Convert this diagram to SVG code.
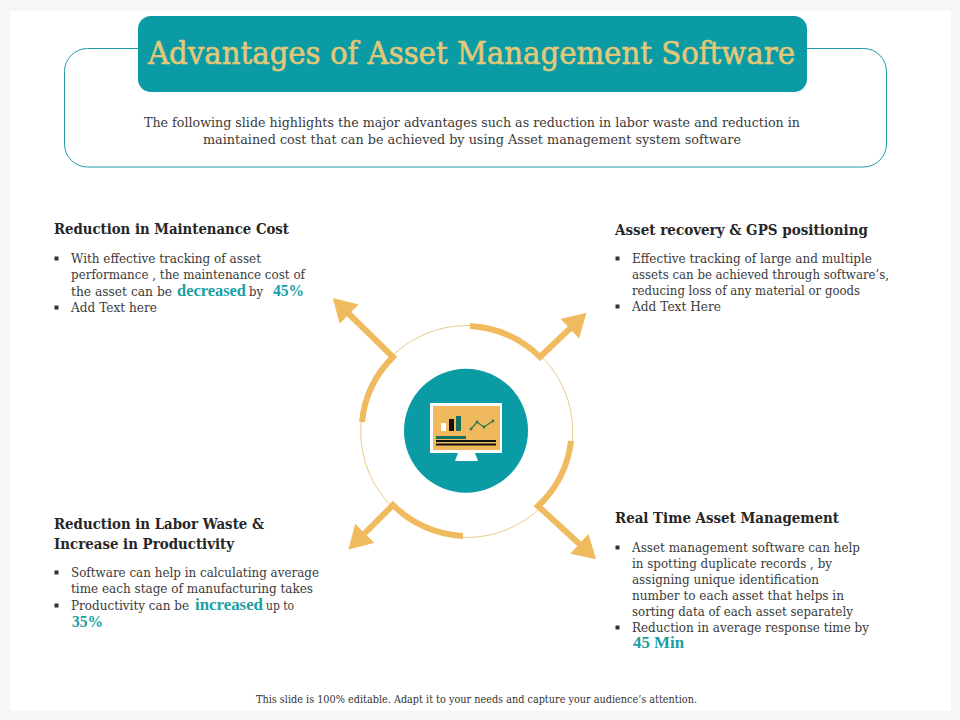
<svg xmlns="http://www.w3.org/2000/svg" width="960" height="720" viewBox="0 0 960 720">
<style>
text{font-family:"DejaVu Serif","Liberation Serif",serif;fill:#3a3a3a;font-size:12px}
.h{font-weight:bold;font-size:14px;fill:#262626}
.t{font-family:"Liberation Serif",serif;font-weight:bold;font-size:16px;fill:#1a9fa6}
.b{fill:#333}
.a{fill:none;stroke:#f0bb5e;stroke-width:6;stroke-linejoin:miter;marker-end:url(#head)}
</style>
<defs>
<marker id="head" markerUnits="userSpaceOnUse" markerWidth="24" markerHeight="28" refX="1" refY="14" orient="auto"><path d="M0 0.5L23 14L0 27.5Z" fill="#f0bb5e"/></marker>
</defs>
<rect width="960" height="720" fill="#f7f6f6"/>
<rect x="10" y="11" width="941" height="700" fill="#fff"/>
<g id="header">
<rect x="64.5" y="48.5" width="822" height="118.5" rx="23" fill="#fff" stroke="#1f9aa3" stroke-width="1"/>
<rect x="138" y="16" width="669" height="76" rx="13" fill="#0a9ba5"/>
<text x="148" y="64" textLength="647" lengthAdjust="spacingAndGlyphs" style="font-size:31px;fill:#e2c878;stroke:#e2c878;stroke-width:.6">Advantages of Asset Management Software</text>
<text x="144" y="127" textLength="656" lengthAdjust="spacingAndGlyphs">The following slide highlights the major advantages such as reduction in labor waste and reduction in</text>
<text x="203" y="144" textLength="538" lengthAdjust="spacingAndGlyphs">maintained cost that can be achieved by using  Asset management system software</text>
</g>
<g id="connectors">
<circle cx="466.7" cy="431.5" r="106" fill="none" stroke="#e9c98d" stroke-width="1"/>
<path class="a" d="M470 326A106 106 0 0 1 540 357L570.5 328"/>
<path class="a" d="M362 422A106 106 0 0 1 393 357L348.5 313.5"/>
<path class="a" d="M571 441A106 106 0 0 1 538 506L580 544.5"/>
<path class="a" d="M463 536A106 106 0 0 1 393 505L364 534"/>
</g>
<g id="monitor">
<circle cx="466" cy="430.7" r="62" fill="#0a9ba5"/>
<rect x="430" y="403" width="72" height="50" fill="#fff"/>
<rect x="433" y="406" width="67" height="44" fill="#f0b95e"/>
<path d="M458 453H475L478 461H455Z" fill="#fff"/>
<rect x="441" y="423" width="5" height="8" fill="#fff"/>
<rect x="449" y="419" width="5" height="12" fill="#111"/>
<rect x="456" y="416" width="5" height="15" fill="#17705f"/>
<path d="M471 429L477 422L484 427L493 421" fill="none" stroke="#2f7a50" stroke-width="1.2"/>
<g fill="#2f7a50"><circle cx="471" cy="429" r="1.4"/><circle cx="477" cy="422" r="1.4"/><circle cx="484" cy="427" r="1.4"/><circle cx="493" cy="421" r="1.4"/></g>
<rect x="436" y="436" width="30" height="3" fill="#17705f"/>
<rect x="436" y="440" width="60" height="2" fill="#111"/>
<rect x="436" y="443.5" width="60" height="2" fill="#111"/>
</g>
<g id="maintenance">
<text class="h" x="54" y="234" textLength="235" lengthAdjust="spacingAndGlyphs">Reduction in Maintenance Cost</text>
<rect class="b" x="54.500" y="256.500" width="4" height="4"/>
<text x="71" y="263" textLength="190" lengthAdjust="spacingAndGlyphs">With effective  tracking of asset</text>
<text x="71" y="279" textLength="234" lengthAdjust="spacingAndGlyphs">performance  , the maintenance cost of</text>
<text x="71" y="296" textLength="101" lengthAdjust="spacingAndGlyphs">the  asset can be</text>
<text class="t" x="177" y="296" textLength="69" lengthAdjust="spacingAndGlyphs">decreased</text>
<text x="249" y="296" textLength="14" lengthAdjust="spacingAndGlyphs">by</text>
<text class="t" x="273" y="296" textLength="31" lengthAdjust="spacingAndGlyphs">45%</text>
<rect class="b" x="54.500" y="305.500" width="4" height="4"/>
<text x="71" y="312" textLength="86" lengthAdjust="spacingAndGlyphs">Add  Text here</text>
</g>
<g id="recovery">
<text class="h" x="615" y="235" textLength="253" lengthAdjust="spacingAndGlyphs">Asset recovery &amp; GPS positioning</text>
<rect class="b" x="615.500" y="256.500" width="4" height="4"/>
<text x="632" y="263" textLength="240" lengthAdjust="spacingAndGlyphs">Effective  tracking of large and multiple</text>
<text x="632" y="279" textLength="257" lengthAdjust="spacingAndGlyphs">assets can be achieved  through software’s,</text>
<text x="632" y="295" textLength="228" lengthAdjust="spacingAndGlyphs">reducing  loss of any material or goods</text>
<rect class="b" x="615.500" y="304.500" width="4" height="4"/>
<text x="632" y="311" textLength="89" lengthAdjust="spacingAndGlyphs">Add  Text Here</text>
</g>
<g id="labor">
<text class="h" x="54" y="529" textLength="210" lengthAdjust="spacingAndGlyphs">Reduction in Labor Waste &amp;</text>
<text class="h" x="54" y="549" textLength="180" lengthAdjust="spacingAndGlyphs">Increase in Productivity</text>
<rect class="b" x="54.500" y="570.500" width="4" height="4"/>
<text x="71" y="577" textLength="248" lengthAdjust="spacingAndGlyphs">Software  can help in calculating  average</text>
<text x="71" y="593" textLength="242" lengthAdjust="spacingAndGlyphs">time each stage of manufacturing  takes</text>
<rect class="b" x="54.500" y="603.500" width="4" height="4"/>
<text x="71" y="610" textLength="118" lengthAdjust="spacingAndGlyphs">Productivity  can be</text>
<text class="t" x="195" y="610" textLength="68" lengthAdjust="spacingAndGlyphs">increased</text>
<text x="266" y="610" textLength="28" lengthAdjust="spacingAndGlyphs">up to</text>
<text class="t" x="72" y="627" textLength="31" lengthAdjust="spacingAndGlyphs">35%</text>
</g>
<g id="realtime">
<text class="h" x="615" y="523" textLength="224" lengthAdjust="spacingAndGlyphs">Real Time Asset Management</text>
<rect class="b" x="615.500" y="545.500" width="4" height="4"/>
<text x="632" y="552" textLength="228" lengthAdjust="spacingAndGlyphs">Asset management  software  can help</text>
<text x="632" y="568" textLength="200" lengthAdjust="spacingAndGlyphs">in spotting  duplicate  records  , by</text>
<text x="632" y="584" textLength="187" lengthAdjust="spacingAndGlyphs">assigning unique  identification</text>
<text x="632" y="600" textLength="212" lengthAdjust="spacingAndGlyphs">number to each asset that helps in</text>
<text x="632" y="616" textLength="221" lengthAdjust="spacingAndGlyphs">sorting data of each asset  separately</text>
<rect class="b" x="615.500" y="625.500" width="4" height="4"/>
<text x="632" y="632" textLength="237" lengthAdjust="spacingAndGlyphs">Reduction  in average  response  time by</text>
<text class="t" x="633" y="648" textLength="51" lengthAdjust="spacingAndGlyphs">45 Min</text>
</g>
<text id="footer" x="256" y="703" textLength="441" lengthAdjust="spacingAndGlyphs" style="font-size:10.5px;fill:#333">This slide is 100% editable. Adapt it  to your needs and capture your audience’s attention.</text>
</svg>
